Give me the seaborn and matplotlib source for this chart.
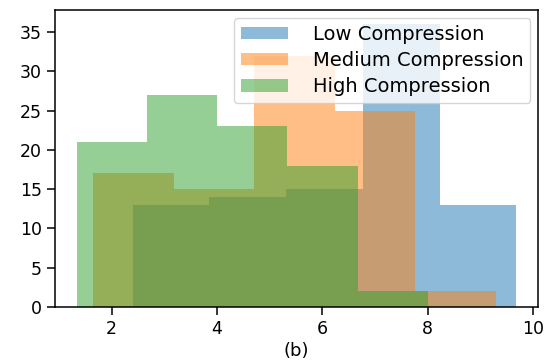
import matplotlib
matplotlib.use("Agg")
import matplotlib.pyplot as plt
import seaborn as sns

# bin edges and counts
low_edges = [2.40, 3.856, 5.312, 6.768, 8.224, 9.68]
low_counts = [13, 14, 15, 36, 13]
medium_edges = [1.65, 3.178, 4.706, 6.234, 7.762, 9.29]
medium_counts = [17, 15, 32, 25, 2]
high_edges = [1.34, 2.672, 4.004, 5.336, 6.668, 8.0]
high_counts = [21, 27, 23, 18, 2]

labels = ["Low Compression", "Medium Compression", "High Compression"]
colors = ["#1f77b4", "#ff7f0e", "#2ca02c"]


def centers(edges):
    return [(a + b) / 2 for a, b in zip(edges[:-1], edges[1:])]


fig = plt.figure(figsize=(5.51, 3.61), dpi=100)
ax = fig.add_axes([0.0998, 0.150, 0.877, 0.822])

series = [(low_edges, low_counts), (medium_edges, medium_counts), (high_edges, high_counts)]
for (edges, counts), label, color in zip(series, labels, colors):
    sns.histplot(x=centers(edges), weights=counts, bins=edges, color=color, alpha=0.5,
                 linewidth=0, label=label, ax=ax)

ax.set_ylabel("")
ax.set_xlabel("(b)", fontsize=13, labelpad=3)
ax.tick_params(labelsize=12.5, length=6, width=1.1)
for s in ax.spines.values():
    s.set_linewidth(1.1)
ax.set_xticks([2, 4, 6, 8, 10])
ax.set_yticks([0, 5, 10, 15, 20, 25, 30, 35])
ax.legend(loc="upper right", fontsize=14, handlelength=2.4, handleheight=0.6, handletextpad=1.3,
          labelspacing=0.38, borderaxespad=0.4, borderpad=0.35)

fig.savefig("out.png", dpi=100)
